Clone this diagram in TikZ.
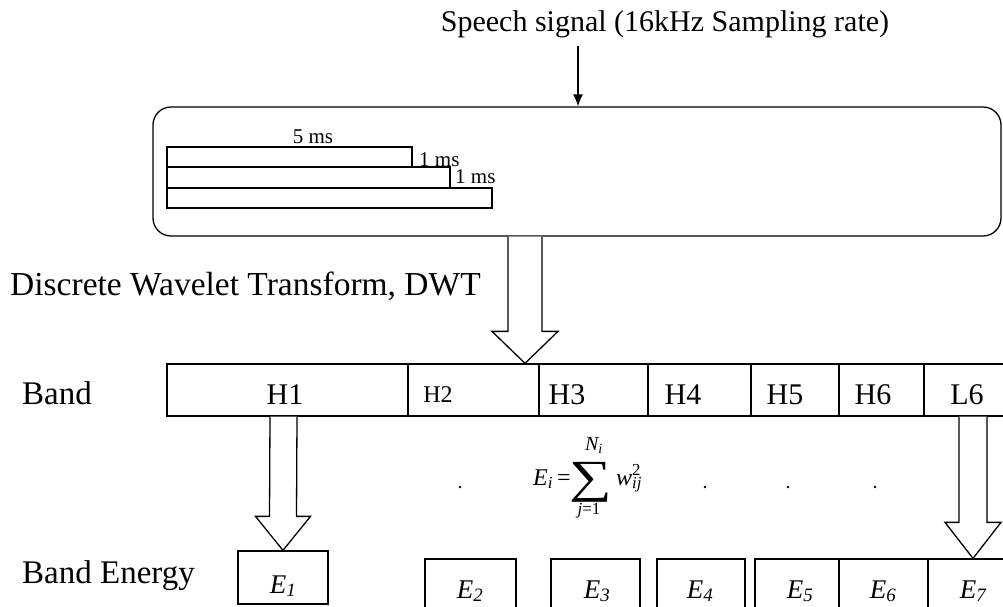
\documentclass[tikz,border=0pt]{standalone}
\usepackage{fontspec}
\setmainfont{Liberation Serif}
\usetikzlibrary{arrows.meta,calc}
\tikzset{
  ln/.style={line width=1.3pt},
  cell/.style={ln,draw,rectangle,inner sep=0pt,minimum height=52pt},
  ebox/.style={ln,draw,rectangle,inner sep=0pt},
  hollow/.style={ln,draw,fill=white,line join=miter},
  lbl/.style={font=\fontsize{33}{36}\selectfont,anchor=base west,inner sep=0pt},
  blbl/.style={font=\fontsize{30}{32}\selectfont,anchor=base,inner sep=0pt},
  elbl/.style={font=\fontsize{27}{30}\selectfont\itshape,anchor=base,inner sep=0pt},
  mslbl/.style={font=\fontsize{21}{23}\selectfont,inner sep=0pt},
  fl/.style={font=\fontsize{24}{26}\selectfont,inner sep=0pt}
}
\begin{document}
\begin{tikzpicture}[x=1pt,y=-1pt]
\useasboundingbox (0,0) rectangle (1003,606);
% title and input arrow
\node[font=\fontsize{30}{32}\selectfont,anchor=base,inner sep=0pt] (speech) at (665,31) {Speech signal (16kHz Sampling rate)};
\node[ln,draw,rounded corners=18pt,minimum width=848pt,minimum height=129pt,inner sep=0pt] (frame) at (577,171.5) {};
\coordinate (in) at (578,46);
\draw[ln,-{Latex[length=12pt,width=10pt]}] (in) -- (in |- frame.north);
% framing bars
\node[ebox,minimum width=245pt,minimum height=20pt] (bar1) at (289.5,157) {};
\node[ebox,minimum width=283pt,minimum height=21pt] (bar2) at (308.5,177.5) {};
\node[ebox,minimum width=325pt,minimum height=20pt] (bar3) at (329.5,198) {};
\node[mslbl,anchor=base] (ms5) at (313,143) {5 ms};
\node[mslbl,anchor=base west] (ms1a) at (419,166) {1 ms};
\node[mslbl,anchor=base west] (ms1b) at (455,183) {1 ms};
% left labels
\node[lbl,font=\fontsize{33.5}{36}\selectfont] (dwt) at (10,295) {Discrete Wavelet Transform, DWT};
\node[lbl] (band) at (22,404) {Band};
\node[lbl] (benergy) at (22,583) {Band Energy};
% band cells
\node[cell,minimum width=241pt] (h1) at (287.5,390) {};
\node[cell,minimum width=131pt] (h2) at (473.5,390) {};
\node[cell,minimum width=109pt] (h3) at (593.5,390) {};
\node[cell,minimum width=103pt] (h4) at (699.5,390) {};
\node[cell,minimum width=88pt] (h5) at (795,390) {};
\node[cell,minimum width=85pt] (h6) at (881.5,390) {};
\node[cell,minimum width=86pt] (l6) at (967,390) {};
\node[blbl] (h1t) at (285,404) {H1};
\node[blbl,font=\fontsize{24}{26}\selectfont] (h2t) at (438,402) {H2};
\node[blbl] (h3t) at (567,404) {H3};
\node[blbl] (h4t) at (683,404) {H4};
\node[blbl] (h5t) at (785,404) {H5};
\node[blbl] (h6t) at (873,404) {H6};
\node[blbl] (l6t) at (967,404) {L6};
% energy boxes
\node[ebox,minimum width=90pt,minimum height=53pt] (e1) at (283,577.5) {};
\node[ebox,minimum width=91pt,minimum height=62pt] (e2) at (470.5,590) {};
\node[ebox,minimum width=89pt,minimum height=62pt] (e3) at (595.5,590) {};
\node[ebox,minimum width=88pt,minimum height=62pt] (e4) at (701,590) {};
\node[ebox,minimum width=84pt,minimum height=62pt] (e5) at (797,590) {};
\node[ebox,minimum width=89pt,minimum height=62pt] (e6) at (883.5,590) {};
\node[ebox,minimum width=90pt,minimum height=62pt] (e7) at (973,590) {};
\node[elbl] (e1t) at (283,593) {E\textsubscript{1}};
\node[elbl] (e2t) at (470,598) {E\textsubscript{2}};
\node[elbl] (e3t) at (597,598) {E\textsubscript{3}};
\node[elbl] (e4t) at (700,598) {E\textsubscript{4}};
\node[elbl] (e5t) at (800,598) {E\textsubscript{5}};
\node[elbl] (e6t) at (883,598) {E\textsubscript{6}};
\node[elbl] (e7t) at (973,598) {E\textsubscript{7}};
% formula
\node[fl,anchor=base west] (ei) at (533,485) {\itshape E\textsubscript{i}\upshape\,=};
\node[fl,font=\fontsize{46}{46}\selectfont,anchor=base] (sum) at (591,492) {\scalebox{1.3}[1]{∑}};
\node[fl,font=\fontsize{20}{22}\selectfont\itshape,anchor=base] (ni) at (594,450) {N\textsubscript{i}};
\node[fl,font=\fontsize{17}{19}\selectfont,anchor=base] (j1) at (589,514) {\itshape j\upshape=1};
\node[fl,anchor=base west] (wij) at (616,485) {\itshape w\rlap{\textsuperscript{\upshape 2}}\textsubscript{ij}};
% dots
\foreach \n/\x in {d1/460,d2/705,d3/788,d4/875}
  \fill (\x,487) circle (1.3pt) coordinate (\n);
% hollow arrows
\coordinate (ax) at (525,0);
\coordinate (bx) at (283.5,0);
\coordinate (cx) at (973,0);
\coordinate (a0) at (ax |- frame.south);
\coordinate (a1) at (ax |- h2.north);
\draw[hollow] ($(a0)+(-17,0)$) -- ($(a1)+(-17,-32)$) -- ($(a1)+(-33,-32)$) -- (a1)
  -- ($(a1)+(33,-32)$) -- ($(a1)+(17,-32)$) -- ($(a0)+(17,0)$);
\coordinate (b0) at (bx |- h1.south);
\coordinate (b1) at (e1.north);
\draw[hollow] ($(b0)+(-13.5,0)$) -- ($(b1)+(-13.5,-34)$) -- ($(b1)+(-27.5,-34)$) -- (b1)
  -- ($(b1)+(27.5,-34)$) -- ($(b1)+(13.5,-34)$) -- ($(b0)+(13.5,0)$);
\coordinate (c0) at (cx |- l6.south);
\coordinate (c1) at (e7.north);
\draw[hollow] ($(c0)+(-14,0)$) -- ($(c1)+(-14,-36)$) -- ($(c1)+(-28,-36)$) -- (c1)
  -- ($(c1)+(28,-36)$) -- ($(c1)+(14,-36)$) -- ($(c0)+(14,0)$);
\end{tikzpicture}
\end{document}
